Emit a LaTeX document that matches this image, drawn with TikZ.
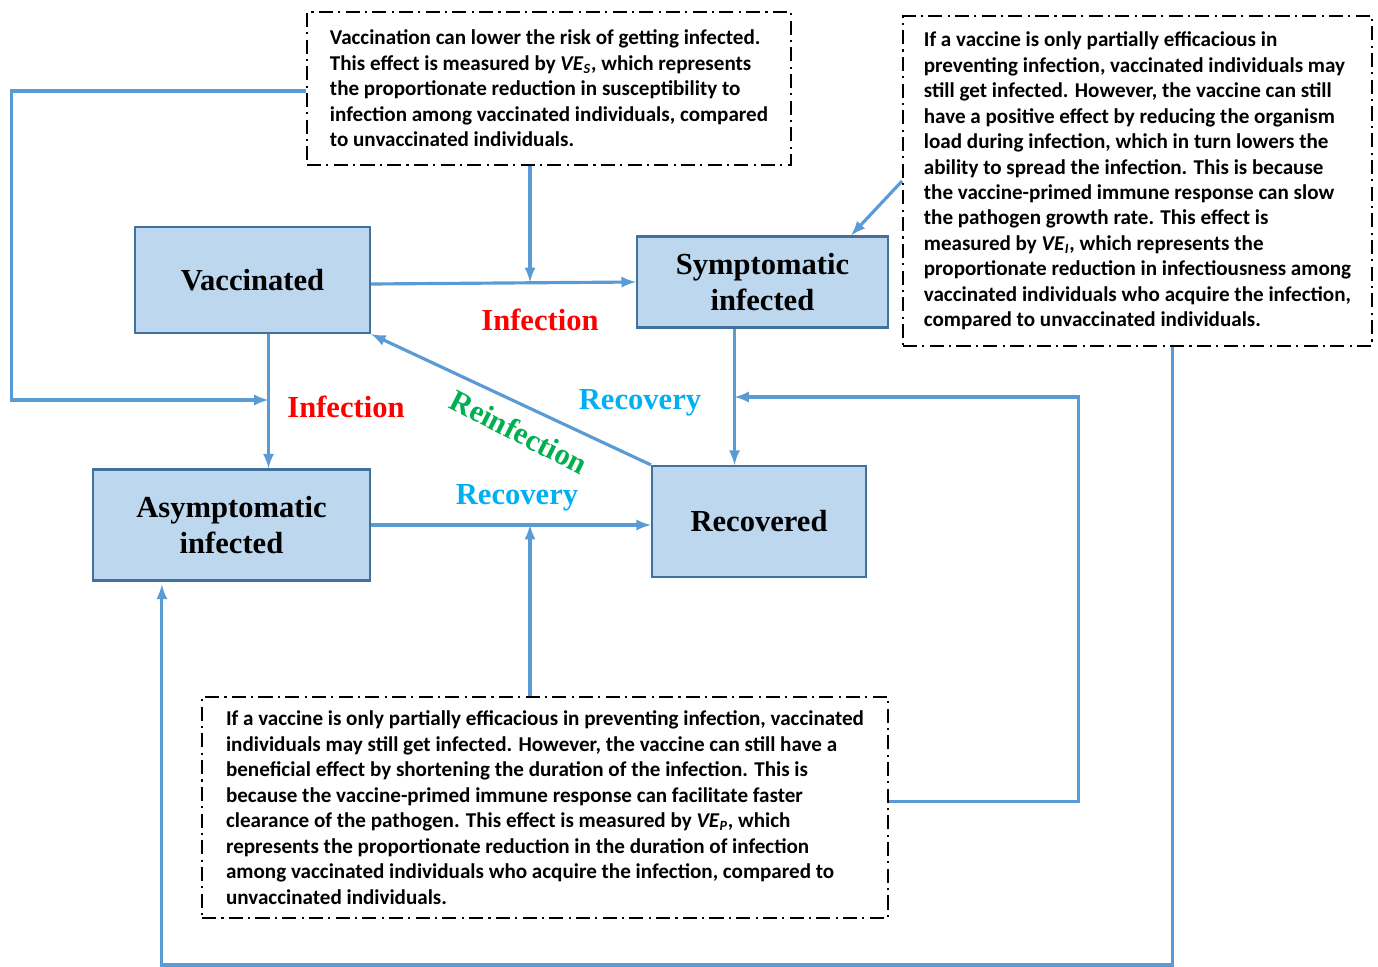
\documentclass[tikz,border=0pt]{standalone}
\usepackage{fontspec}
\setmainfont{Liberation Serif}
\newfontfamily\notefont{Carlito}
\usetikzlibrary{positioning, calc}
\definecolor{boxfill}{HTML}{BDD7EE}
\definecolor{boxdraw}{HTML}{41719C}
\definecolor{arrowblue}{HTML}{5B9BD5}
\definecolor{infred}{HTML}{FF0000}
\definecolor{recblue}{HTML}{00B0F0}
\definecolor{reinfgreen}{HTML}{00B050}
\tikzset{block/.style={draw=boxdraw, fill=boxfill, line width=1.3pt, align=center, font=\fontsize{17.4}{20.4}\selectfont\bfseries},
note/.style={draw, line width=1.1pt, dash pattern=on 8pt off 3pt on 1.2pt off 3pt, align=left, font=\notefont\fontsize{12}{14.5}\selectfont\bfseries},
lbl/.style={font=\fontsize{17.4}{20}\selectfont\bfseries},
line/.style={-latex, draw=arrowblue, line width=1.8pt}
}

\begin{document}
\begin{tikzpicture}[x=0.02cm, y=-0.02cm]
\useasboundingbox (0,0) rectangle (1378,966);

% compartments
\node[block, minimum width=4.7cm, minimum height=2.12cm] (vac) at (252.5,280) {Vaccinated};
\node[block, minimum width=5.02cm, minimum height=1.82cm] (sym) at (762.5,282) {Symptomatic\\infected};
\node[block, minimum width=5.54cm, minimum height=2.22cm] (asy) at (231.5,525) {Asymptomatic\\infected};
\node[block, minimum width=4.28cm, minimum height=2.22cm] (rec) at (759,521.5) {Recovered};

% notes on the vaccine effects
\node[note, minimum width=9.68cm, minimum height=3.06cm] (ves) at (549,88.5) {Vaccination can lower the risk of getting infected.\\ This effect is measured by \textit{VE}\textsubscript{\textit{S}}, which represents\\ the proportionate reduction in susceptibility to\\ infection among vaccinated individuals, compared\\ to unvaccinated individuals.};
\node[note, minimum width=9.38cm, minimum height=6.6cm] (vei) at (1137.5,181) {If a vaccine is only partially efficacious in\\ preventing infection, vaccinated individuals may\\ still get infected. However, the vaccine can still\\ have a positive effect by reducing the organism\\ load during infection, which in turn lowers the\\ ability to spread the infection. This is because\\ the vaccine-primed immune response can slow\\ the pathogen growth rate. This effect is\\ measured by \textit{VE}\textsubscript{\textit{I}}, which represents the\\ proportionate reduction in infectiousness among\\ vaccinated individuals who acquire the infection,\\ compared to unvaccinated individuals.};
\node[note, minimum width=13.72cm, minimum height=4.42cm] (vep) at (545,807.5) {If a vaccine is only partially efficacious in preventing infection, vaccinated\\ individuals may still get infected. However, the vaccine can still have a\\ beneficial effect by shortening the duration of the infection. This is\\ because the vaccine-primed immune response can facilitate faster\\ clearance of the pathogen. This effect is measured by \textit{VE}\textsubscript{\textit{P}}, which\\ represents the proportionate reduction in the duration of infection\\ among vaccinated individuals who acquire the infection, compared to\\ unvaccinated individuals.};

% transition labels
\node[lbl, text=infred] (inf1) at (540,320) {Infection};
\node[lbl, text=infred] (inf2) at (346,407) {Infection};
\node[lbl, text=recblue] (rcv1) at (640,403) {Recovery};
\node[lbl, text=recblue] (rcv2) at (517,498) {Recovery};
\node[lbl, text=reinfgreen, rotate=-27, inner sep=0pt] (reinf) at (519,432) {Reinfection};

\coordinate (vacout) at ($(vac.south)+(16,0)$);
\coordinate (symout) at ($(sym.south)+(-28,0)$);
\coordinate (j1) at (530,282);
\coordinate (j2) at (vacout |- 0,400);
\coordinate (j3) at (530,525);
\coordinate (j4) at (symout |- 0,397);

\draw[line] ($(vac.east)+(0,4)$) -- (sym.west);
\draw[line] (ves.south -| j1) -- (j1);
\draw[line] ($(ves.west)+(0,2.5)$) -- ++(-295,0) |- (j2);
\draw[line] (vacout) -- (vacout |- asy.north);
\draw[line] (vei.west) -- ($(sym.north east)+(-38,0)$);
\draw[line] (symout) -- (symout |- rec.north);
\draw[line] ($(vei.south)+(35,0)$) -- ++(0,618) -| ($(asy.south west)+(70,3)$);
\draw[line] ($(vep.east)+(0,-6)$) -- ++(190,0) |- (j4);
\draw[line] (asy.east |- j3) -- (rec.west |- j3);
\draw[line] (vep.north -| j3) -- (j3);
\draw[line] (rec.north west) -- (vac.south east);

\end{tikzpicture}
\end{document}
